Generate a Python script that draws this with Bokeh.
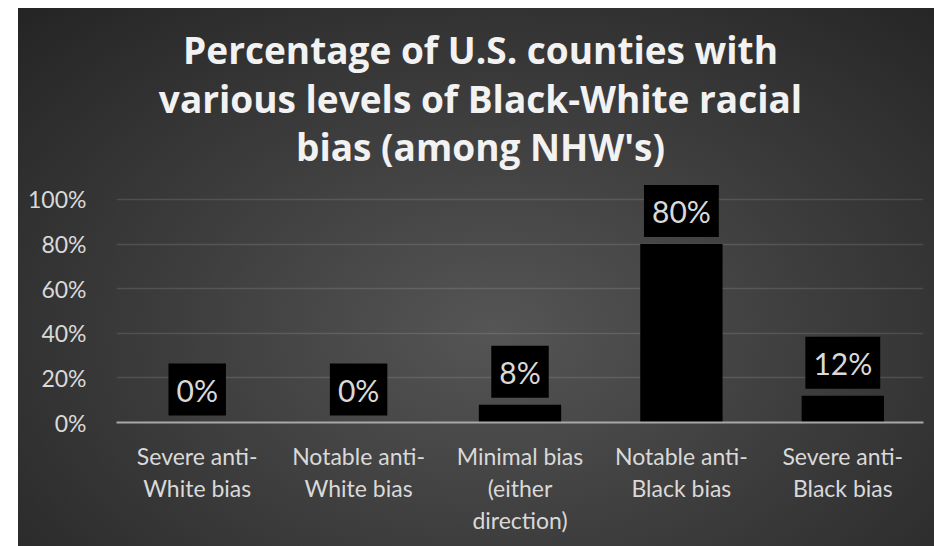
from bokeh.plotting import figure
from bokeh.models import ColumnDataSource, FixedTicker, NumeralTickFormatter, Range1d, Label
from bokeh.core.properties import value
from bokeh.embed import file_html
from bokeh.resources import INLINE

categories = ["Severe anti-\nWhite bias", "Notable anti-\nWhite bias",
              "Minimal bias\n(either\ndirection)", "Notable anti-\nBlack bias",
              "Severe anti-\nBlack bias"]
values = [0.0, 0.0, 0.08, 0.80, 0.12]
labels = ["0%", "0%", "8%", "80%", "12%"]
y_ticks = [0, 0.2, 0.4, 0.6, 0.8, 1.0]
title_lines = ["Percentage of U.S. counties with",
               "various levels of Black-White racial",
               "bias (among NHW's)"]

src = ColumnDataSource(dict(cat=categories, val=values, lab=labels))

p = figure(x_range=categories, y_range=Range1d(0, 1.8565), width=916, height=538,
           output_backend="svg", toolbar_location=None,
           min_border_left=98, min_border_right=11, min_border_top=0, min_border_bottom=124,
           margin=(8, 0, 0, 18))
p.title.visible = False
for i, line in enumerate(title_lines):
    p.add_layout(Label(x=364, y=373 - 48.5 * i, x_units="screen", y_units="screen", text=line,
                       text_align="center", text_baseline="alphabetic",
                       text_font="Open Sans", text_font_style="bold",
                       text_font_size="37px", text_color="#f2f2f2"))
p.background_fill_alpha = 0
p.border_fill_alpha = 0
p.outline_line_color = None
p.styles = {"background": "radial-gradient(ellipse farthest-corner at 52% 60%, #555555 0%, #3c3c3c 50%, #242424 100%)"}

p.vbar(x="cat", top="val", width=0.51, source=src, fill_color="black", line_color=None)

p.text(x="cat", y="val", text="lab", source=src, text_align="center", text_baseline="bottom",
       y_offset=-7, text_font=value("Lato"), text_font_size="30px", text_color="#d9d9d9",
       background_fill_color="black", padding=(8, 8))

p.xgrid.grid_line_color = None
p.ygrid.grid_line_color = "#ffffff"
p.ygrid.grid_line_alpha = 0.12
p.ygrid.grid_line_width = 1.5
p.ygrid.ticker = FixedTicker(ticks=y_ticks)

p.yaxis.ticker = FixedTicker(ticks=y_ticks)
p.yaxis.formatter = NumeralTickFormatter(format="0%")
p.yaxis.axis_line_color = None
p.yaxis.major_tick_line_color = None
p.yaxis.minor_tick_line_color = None
p.yaxis.major_label_standoff = 24
p.yaxis.major_label_text_font = "Lato"
p.yaxis.major_label_text_font_size = "23px"
p.yaxis.major_label_text_color = "#d9d9d9"

p.xaxis.axis_line_color = "#a8a8a8"
p.xaxis.axis_line_width = 2
p.xaxis.major_tick_line_color = None
p.xaxis.minor_tick_line_color = None
p.xaxis.major_label_standoff = 13
p.xaxis.major_label_text_font = "Lato"
p.xaxis.major_label_text_font_size = "23px"
p.xaxis.major_label_text_color = "#d9d9d9"
p.xaxis.major_label_text_line_height = 1.16
p.x_range.range_padding = 0

open("out.html", "w").write(file_html(p, INLINE))
